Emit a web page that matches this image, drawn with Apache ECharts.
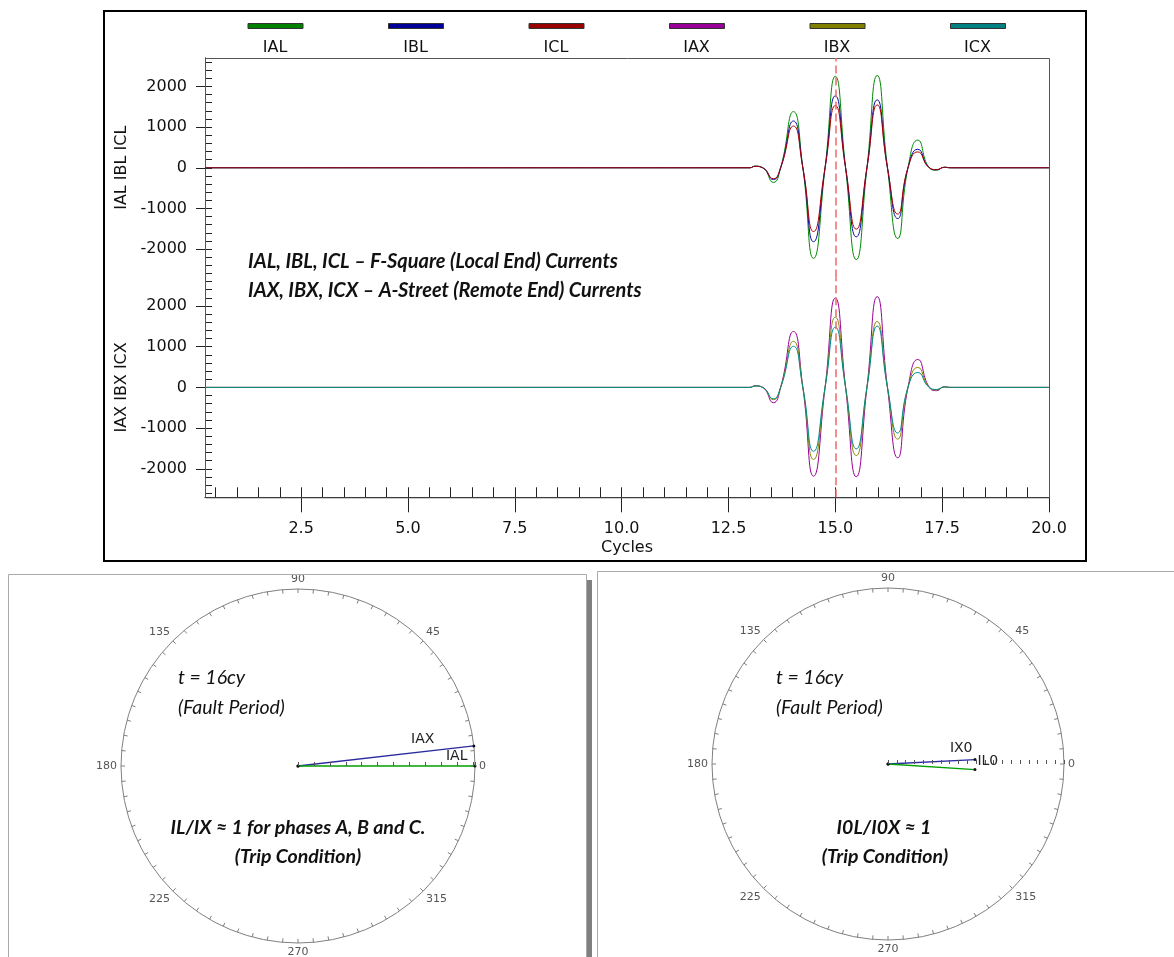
<!DOCTYPE html>
<html><head><meta charset="utf-8">
<script src="https://cdn.jsdelivr.net/npm/echarts@6/dist/echarts.min.js"></script>
<style>html,body{margin:0;padding:0;background:#fff}#c{width:1174px;height:957px}</style>
</head><body><div id="c"></div>
<script>
// ---------- DATA ----------
const cycles = [0.25, 13.0, 13.12, 13.3, 13.55, 13.72, 14.02, 14.24, 14.49, 14.76, 15.0, 15.24, 15.49, 15.74, 15.98, 16.22, 16.46, 16.7, 16.93, 17.2, 17.37, 17.55, 17.7, 20.0];
const IAL = [0, 0, 40, 0, -360, 0, 1380, 0, -2230, 0, 2250, 0, -2260, 0, 2270, 0, -1740, 0, 680, 0, -60, 15, 0, 0];
const IBL = [0, 0, 35, 0, -290, 0, 1150, 0, -1820, 0, 1770, 0, -1700, 0, 1670, 0, -1250, 0, 455, 0, -50, 10, 0, 0];
const ICL = [0, 0, 35, 0, -270, 0, 1025, 0, -1570, 0, 1530, 0, -1510, 0, 1545, 0, -1140, 0, 390, 0, -45, 10, 0, 0];
const IAX = [0, 0, 40, 0, -375, 0, 1375, 0, -2180, 0, 2195, 0, -2195, 0, 2230, 0, -1730, 0, 685, 0, -80, 15, 0, 0];
const IBX = [0, 0, 35, 0, -300, 0, 1130, 0, -1770, 0, 1725, 0, -1675, 0, 1620, 0, -1270, 0, 490, 0, -60, 10, 0, 0];
const ICX = [0, 0, 35, 0, -280, 0, 1010, 0, -1570, 0, 1480, 0, -1510, 0, 1505, 0, -1120, 0, 365, 0, -50, 10, 0, 0];
const seriesNames = ['IAL', 'IBL', 'ICL', 'IAX', 'IBX', 'ICX'];
const xTickLabels = [2.5, 5.0, 7.5, 10.0, 12.5, 15.0, 17.5, 20.0];
const yTickLabels = [-2000, -1000, 0, 1000, 2000];
const markerCycle = 15.0;
// phasors at t = 16 cycles: [magnitude (p.u. of circle), angle deg]
const phasorNamesL = ['IAX', 'IAL'];
const phasorMagL = [1.0, 1.0];
const phasorAngL = [6.5, 0];
const phasorNamesR = ['IX0', 'IL0'];
const phasorMagR = [0.495, 0.495];
const phasorAngR = [2.9, 356.3];
const angleTickLabels = [0, 45, 90, 135, 180, 225, 270, 315];

// ---------- STYLE / LAYOUT ----------
const colors = ['#008a00', '#0a0aa8', '#aa0000', '#990099', '#8a8a00', '#008a8a'];
const legendColors = ['#008000', '#000099', '#990000', '#990099', '#808000', '#008080'];
const phasorColorsL = ['#2b2ba0', '#00a000'];
const phasorColorsR = ['#2b2ba0', '#00a000'];
const AXF = 'DejaVu Sans';
const NOTEF = 'Lato, "Open Sans", sans-serif';
const P = { left: 205, top: 58, width: 844, h1: 219.5, h2: 219.8 };
const legendX0 = 275, legendStep = 140.5;

const waveSeries = [IAL, IBL, ICL, IAX, IBX, ICX];
const minorX = []; for (let v = 0.5; v <= 20.0001; v += 0.5) minorX.push(+v.toFixed(2));
const minorY = []; for (let v = -2600; v <= 2600; v += 200) minorY.push(v);

function yAxesFor(g, name) {
  return [
    { gridIndex: g, type: 'value', min: -2700, max: 2700, position: 'left',
      axisLine: { show: true, onZero: false, lineStyle: { color: '#000', width: 1 } },
      axisTick: { show: true, inside: true, length: 7, customValues: minorY, lineStyle: { color: '#222' } },
      axisLabel: { show: false }, splitLine: { show: false } },
    { gridIndex: g, type: 'value', min: -2700, max: 2700, position: 'left',
      axisLine: { show: false, onZero: false },
      axisTick: { show: true, inside: false, length: 9, customValues: yTickLabels, lineStyle: { color: '#222' } },
      axisLabel: { show: true, customValues: yTickLabels, margin: 18, fontFamily: AXF, fontSize: 16, color: '#111',
        formatter: v => String(Math.round(v)) },
      splitLine: { show: false },
      name: name, nameLocation: 'middle', nameRotate: 90, nameGap: 70,
      nameTextStyle: { fontFamily: AXF, fontSize: 16, color: '#111' } }
  ];
}

const xAxis = [
  { gridIndex: 0, type: 'value', min: 0.25, max: 20, show: false, axisLine: { onZero: false } },
  { gridIndex: 1, type: 'value', min: 0.25, max: 20, position: 'bottom',
    axisLine: { show: true, onZero: false, lineStyle: { color: '#000', width: 1 } },
    axisTick: { show: true, inside: true, length: 10, customValues: minorX, lineStyle: { color: '#222' } },
    axisLabel: { show: false }, splitLine: { show: false } },
  { gridIndex: 1, type: 'value', min: 0.25, max: 20, position: 'bottom',
    axisLine: { show: false, onZero: false },
    axisTick: { show: true, inside: false, length: 15, customValues: xTickLabels, lineStyle: { color: '#222' } },
    axisLabel: { show: true, customValues: xTickLabels, margin: 24, fontFamily: AXF, fontSize: 16, color: '#111',
      formatter: v => Number(v).toFixed(1) },
    splitLine: { show: false },
    name: 'Cycles', nameLocation: 'middle', nameGap: 43,
    nameTextStyle: { fontFamily: AXF, fontSize: 16, color: '#111' } }
];
const yAxis = [].concat(yAxesFor(0, 'IAL IBL ICL'), yAxesFor(1, 'IAX IBX ICX'));

const markLineStyle = { symbol: 'none', silent: true, label: { show: false },
  lineStyle: { color: '#ef6a6a', width: 1.5, type: [8, 4] }, data: [{ xAxis: markerCycle }] };

const series = waveSeries.map((arr, i) => {
  const lower = i >= 3;
  const s = {
    name: seriesNames[i], type: 'line',
    xAxisIndex: lower ? 1 : 0, yAxisIndex: lower ? 2 : 0,
    data: cycles.map((t, k) => [t, arr[k]]),
    smooth: 0.55, showSymbol: false, symbol: 'none',
    lineStyle: { color: colors[i], width: 1 }, itemStyle: { color: legendColors[i] },
    animation: false, z: 3
  };
  if (i === 2 || i === 5) s.markLine = markLineStyle;
  return s;
});

function phasorSeries(polarIndex, names, mags, angs, cols, labelCfg) {
  return names.map((n, i) => ({
    name: n, type: 'line', coordinateSystem: 'polar', polarIndex: polarIndex,
    data: [[0, angs[i]], { value: [mags[i], angs[i]], label: Object.assign({ show: true, formatter: n,
      fontFamily: AXF, fontSize: 14, color: '#222' }, labelCfg[i]) }],
    symbol: 'circle', symbolSize: 3, showSymbol: true,
    itemStyle: { color: '#111' }, lineStyle: { color: cols[i], width: 1.3 },
    animation: false, z: 1
  }));
}
series.push(...phasorSeries(0, phasorNamesL, phasorMagL, phasorAngL, phasorColorsL,
  [{ position: 'left', distance: 38, offset: [0, -7] }, { position: 'left', distance: 6, offset: [0, -10] }]));
series.push(...phasorSeries(1, phasorNamesR, phasorMagR, phasorAngR, phasorColorsR,
  [{ position: 'left', distance: 1, offset: [0, -11] }, { position: 'right', distance: 1, offset: [0, -8] }]));

function angleAxisFor(pi) {
  return { polarIndex: pi, type: 'value', min: 0, max: 360, interval: 5, startAngle: 0, clockwise: false,
    axisLine: { show: true, lineStyle: { color: '#808080', width: 1 } },
    axisTick: { show: true, inside: true, length: 4, lineStyle: { color: '#808080' } },
    axisLabel: { show: true, interval: 8, margin: 4, fontFamily: AXF, fontSize: 11, color: '#555',
      formatter: v => (angleTickLabels.indexOf(v) >= 0 ? String(v) : '') },
    splitLine: { show: false } };
}
function radiusAxisFor(pi, interval) {
  return { polarIndex: pi, type: 'value', min: 0, max: 1, interval: interval, z: 6,
    axisLine: { show: false }, axisLabel: { show: false }, splitLine: { show: false },
    axisTick: { show: true, length: 4, lineStyle: { color: '#555' } } };
}

const legends = seriesNames.map((n, i) => ({
  data: [n], left: legendX0 + i * legendStep - 27.5, top: 23, padding: 0,
  icon: 'rect', itemWidth: 55, itemHeight: 5, selectedMode: false,
  itemStyle: { color: legendColors[i], borderColor: '#333', borderWidth: 1 },
  formatter: () => '', textStyle: { fontSize: 1 }
}));

const notes = [
  { x: 248, y: 262, text: 'IAL, IBL, ICL – F-Square (Local End) Currents', font: 'italic bold 20px ' + NOTEF, align: 'left' },
  { x: 248, y: 291, text: 'IAX, IBX, ICX – A-Street (Remote End) Currents', font: 'italic bold 20px ' + NOTEF, align: 'left' },
  { x: 178, y: 678, text: 't = 16cy', font: 'italic 19.5px ' + NOTEF, align: 'left' },
  { x: 178, y: 708, text: '(Fault Period)', font: 'italic 19.5px ' + NOTEF, align: 'left' },
  { x: 298, y: 828, text: 'IL/IX ≈ 1 for phases A, B and C.', font: 'italic bold 19.5px ' + NOTEF, align: 'center' },
  { x: 298, y: 857, text: '(Trip Condition)', font: 'italic bold 19.5px ' + NOTEF, align: 'center' },
  { x: 776, y: 678, text: 't = 16cy', font: 'italic 19.5px ' + NOTEF, align: 'left' },
  { x: 776, y: 708, text: '(Fault Period)', font: 'italic 19.5px ' + NOTEF, align: 'left' },
  { x: 884, y: 828, text: 'I0L/I0X ≈ 1', font: 'italic bold 19.5px ' + NOTEF, align: 'center' },
  { x: 885, y: 857, text: '(Trip Condition)', font: 'italic bold 19.5px ' + NOTEF, align: 'center' }
];

const graphic = [
  { type: 'rect', shape: { x: 104, y: 11, width: 982, height: 550 }, style: { fill: 'none', stroke: '#000', lineWidth: 2 }, z: 1 },
  { type: 'rect', shape: { x: P.left + 0.5, y: P.top + 0.5, width: P.width, height: P.h1 + P.h2 }, style: { fill: 'none', stroke: '#555', lineWidth: 1 }, z: 1 },
  { type: 'rect', shape: { x: 8.5, y: 574.5, width: 578, height: 400 }, style: { fill: 'none', stroke: '#aaa', lineWidth: 1 }, z: 1 },
  { type: 'rect', shape: { x: 587, y: 580, width: 5, height: 400 }, style: { fill: '#808080' }, z: 1 },
  { type: 'rect', shape: { x: 597.5, y: 571.5, width: 590, height: 400 }, style: { fill: 'none', stroke: '#aaa', lineWidth: 1 }, z: 1 }
].concat(seriesNames.map((n, i) => ({
  type: 'text', x: legendX0 + i * legendStep, y: 48, z: 5,
  style: { text: n, font: '16px ' + AXF, fill: '#111', textAlign: 'center', textVerticalAlign: 'middle' }
}))).concat(notes.map(o => ({
  type: 'text', x: o.x, y: o.y, z: 5,
  style: { text: o.text, font: o.font, fill: '#111', textAlign: o.align, textVerticalAlign: 'middle' }
})));

const option = {
  backgroundColor: '#fff',
  animation: false,
  grid: [
    { left: P.left, top: P.top, width: P.width, height: P.h1, outerBoundsMode: 'none' },
    { left: P.left, top: P.top + P.h1, width: P.width, height: P.h2, outerBoundsMode: 'none' }
  ],
  xAxis: xAxis, yAxis: yAxis,
  polar: [{ center: [298, 766], radius: 177 }, { center: [888, 764], radius: 176 }],
  angleAxis: [angleAxisFor(0), angleAxisFor(1)],
  radiusAxis: [radiusAxisFor(0, 0.09), radiusAxisFor(1, 0.05)],
  legend: legends,
  series: series,
  graphic: graphic
};
const chart = echarts.init(document.getElementById('c'), null, { renderer: 'canvas' });
chart.setOption(option);
</script></body></html>
